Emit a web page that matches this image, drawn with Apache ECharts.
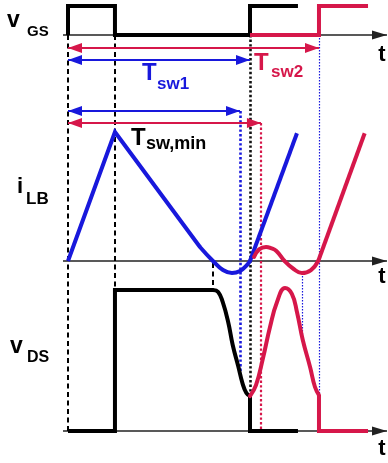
<!DOCTYPE html>
<html>
<head>
<meta charset="utf-8">
<script src="https://cdn.jsdelivr.net/npm/echarts@6/dist/echarts.min.js"></script>
<style>
  html, body { margin: 0; padding: 0; background: #fff; }
  #c { width: 388px; height: 463px; }
</style>
</head>
<body>
<div id="c"></div>
<script>
// ---- switching instants (time units, 0 = start of first gate pulse) ----
const tOn = 5.16;       // end of gate on-time
const tFall = 15.93;    // vDS starts to fall, iLB crosses zero
const tMinBlue = 18.9;  // minimum-period instant, first cycle
const tSw1 = 20.0;      // first switching period
const tMinRed = 21.2;   // minimum switching period
const tValley2 = 25.7;  // second current valley
const tSw2 = 27.58;     // extended switching period

// ---- gate voltage vGS (normalised) ----
const vgsBlackT = [0, 0, 5.16, 5.16, 20.0, 20.0, 25.27];
const vgsBlackV = [0, 1, 1, 0, 0, 1, 1];
const vgsRedT = [20.0, 27.58, 27.58, 32.97];
const vgsRedV = [0, 0, 1, 1];

// ---- inductor current iLB (normalised to peak) ----
const ilbBlueT = [0, 5.16, 14.5, 15.93, 17.03, 18.02, 18.9, 19.67, 20.0, 25.16];
const ilbBlueV = [0, 1.0, 0.109, 0, -0.07, -0.093, -0.078, -0.031, 0, 0.99];
const ilbRedT = [20.44, 21.0, 21.76, 22.3, 22.9, 23.8, 24.8, 25.7, 26.7, 27.5, 32.6];
const ilbRedV = [0.031, 0.09, 0.109, 0.1, 0.078, 0, -0.062, -0.093, -0.07, 0, 0.99];

// ---- drain-source voltage vDS (normalised) ----
const vdsBlackT = [0, 5.16, 5.16, 15.93, 16.5, 17.0, 17.6, 18.1, 18.7, 19.2, 19.6, 20.0, 20.0, 25.27];
const vdsBlackV = [0, 0, 1, 1, 0.986, 0.915, 0.773, 0.61, 0.461, 0.333, 0.27, 0.248, 0, 0];
const vdsRedT = [20.0, 20.66, 21.43, 22.2, 22.97, 23.85, 24.6, 25.16, 25.8, 26.6, 27.14, 27.58, 27.58, 32.97];
const vdsRedV = [0.248, 0.326, 0.518, 0.738, 0.915, 1.014, 0.972, 0.844, 0.645, 0.454, 0.312, 0.255, 0, 0];

// ---- period arrows: end time and colour ----
const arrowEnds = [tSw2, tSw1, tMinBlue, tMinRed];
const arrowColorKeys = ['red', 'blue', 'blue', 'red'];

// ---- layout ----
const W = 388, H = 463;
const PX_PER_T = 9.1, T0_PX = 68;
const COLORS = { black: '#000000', blue: '#1818dc', red: '#d6174a' };
const ROWS = {
  vgs: { base: 35, scale: 29 },
  ilb: { base: 261, scale: 129 },
  vds: { base: 431, scale: 141 }
};
const ROW_KEYS = ['vgs', 'ilb', 'vds'];
const LAYOUT_AXIS = 3;
const arrowLevels = [48, 60, 111, 123];
const axisStartT = (63 - T0_PX) / PX_PER_T;
const axisEndT = (387 - T0_PX) / PX_PER_T;
const TRACE_WIDTH = 4;

function rowY(row, v) { return ROWS[row].base - ROWS[row].scale * v; }

const ARROW_PATH = 'path://M5,0L10,14L0,14Z';

const yAxes = ROW_KEYS.map(k => ({
  type: 'value', show: false,
  min: (ROWS[k].base - H) / ROWS[k].scale,
  max: ROWS[k].base / ROWS[k].scale
}));
yAxes.push({ type: 'value', show: false, min: 0, max: H, inverse: true });

function lineSeries(points, row, color, z, smooth) {
  return {
    type: 'line', yAxisIndex: ROW_KEYS.indexOf(row), data: points,
    showSymbol: false, symbol: 'none', silent: true, animation: false, z: z,
    smooth: smooth ? 0.45 : false,
    lineStyle: { color: color, width: TRACE_WIDTH, join: smooth ? 'round' : 'miter', cap: smooth ? 'round' : 'butt' }
  };
}

// a trace drawn as straight pieces with one smoothly curved stretch [c0, c1] (point indices)
function trace(ts, vs, row, color, z, c0, c1) {
  const pts = ts.map((t, i) => [t, vs[i]]);
  if (c0 == null) return [lineSeries(pts, row, color, z, false)];
  const out = [];
  if (c0 > 0) out.push(lineSeries(pts.slice(0, c0 + 1), row, color, z, false));
  out.push(lineSeries(pts.slice(c0, c1 + 1), row, color, z, true));
  if (c1 < pts.length - 1) out.push(lineSeries(pts.slice(c1), row, color, z, false));
  return out;
}

function markSeries(yAxisIndex, lines, z) {
  return {
    type: 'line', yAxisIndex: yAxisIndex, data: [], silent: true, animation: false, z: z,
    markLine: {
      silent: true, animation: false, symbol: ['none', 'none'],
      label: { show: false }, emphasis: { disabled: true },
      data: lines
    }
  };
}

function endArrow(coord, w, h) {
  return { coord: coord, symbol: ARROW_PATH, symbolSize: [w, h], symbolOffset: [0, h / 2], symbolKeepAspect: false };
}

// horizontal time axes with arrow heads
const axisSeries = ROW_KEYS.map((k, i) => markSeries(i, [[
  { coord: [axisStartT, 0], lineStyle: { color: '#222', width: 1.6, type: 'solid' } },
  endArrow([axisEndT, 0], 9, 15)
]], 1));

// vertical guide lines
const dashed = { color: '#000', width: 2, type: [5, 3.5] };
const dotBlack = { color: '#111', width: 2.6, type: [2.4, 2.2] };
const dotBlue = { color: COLORS.blue, width: 2.6, type: [2.4, 2.2] };
const dotRed = { color: COLORS.red, width: 2.2, type: [2.4, 2.2] };
const thinBlue = { color: COLORS.blue, width: 1.2, type: [1.5, 1.5] };
const guideDefs = [
  [0, rowY('vgs', 0), rowY('vds', 0), dashed],
  [tOn, rowY('vgs', 0), rowY('vds', 1), dashed],
  [tFall, rowY('ilb', 0) + 2, rowY('vds', 1), dashed],
  [tMinBlue, arrowLevels[2], rowY('vds', 0.41), dotBlue],
  [tSw1, rowY('vgs', 0), rowY('vds', 0.248), dotBlack],
  [tMinRed, arrowLevels[3], rowY('vds', 0), dotRed],
  [tValley2, rowY('ilb', -0.093), rowY('vds', 0.676), thinBlue],
  [tSw2, rowY('vgs', 0), rowY('vds', 0.255), thinBlue]
];
const guideSeries = markSeries(LAYOUT_AXIS, guideDefs.map(g => [
  { coord: [g[0], g[1]], lineStyle: g[3] },
  { coord: [g[0], g[2]] }
]), 2);

// double-headed period arrows
const arrowSeries = markSeries(LAYOUT_AXIS, arrowEnds.map((tEnd, i) => {
  const c = COLORS[arrowColorKeys[i]];
  const a = endArrow([0, arrowLevels[i]], 10, 14);
  a.lineStyle = { color: c, width: 2.2, type: 'solid' };
  return [a, endArrow([tEnd, arrowLevels[i]], 10, 14)];
}), 5);

// text labels (x = left edge, b = baseline)
const labelDefs = [
  { text: 'v', x: 7, b: 29, size: 23 },
  { text: 'GS', x: 27, b: 37, size: 15 },
  { text: 'i', x: 17, b: 195, size: 22 },
  { text: 'LB', x: 26, b: 205, size: 17 },
  { text: 'v', x: 10, b: 355, size: 23 },
  { text: 'DS', x: 27, b: 363, size: 16 },
  { text: 't', x: 382, b: 63, size: 22, align: 'center' },
  { text: 't', x: 382, b: 285, size: 22, align: 'center' },
  { text: 't', x: 382, b: 457, size: 22, align: 'center' },
  { text: 'T', x: 142, b: 82, size: 24, color: COLORS.blue },
  { text: 'sw1', x: 157, b: 90, size: 17, color: COLORS.blue },
  { text: 'T', x: 254, b: 72, size: 24, color: COLORS.red },
  { text: 'sw2', x: 271, b: 78, size: 17, color: COLORS.red },
  { text: 'T', x: 131, b: 147, size: 24 },
  { text: 'sw,min', x: 146, b: 150, size: 18 }
];
const graphics = labelDefs.map(l => ({
  type: 'text', x: l.x, y: l.b - 0.35 * l.size, silent: true, z: 10,
  style: {
    text: l.text,
    font: 'bold ' + l.size + 'px "Liberation Sans", Arial, sans-serif',
    fill: l.color || '#000',
    align: l.align || 'left',
    verticalAlign: 'middle'
  }
}));

const chart = echarts.init(document.getElementById('c'), null, { renderer: 'canvas' });
chart.setOption({
  animation: false,
  backgroundColor: '#ffffff',
  grid: { left: 0, right: 0, top: 0, bottom: 0, containLabel: false },
  xAxis: { type: 'value', show: false, min: -T0_PX / PX_PER_T, max: (W - T0_PX) / PX_PER_T },
  yAxis: yAxes,
  graphic: graphics,
  series: [
    ...axisSeries,
    guideSeries,
    ...trace(vgsBlackT, vgsBlackV, 'vgs', COLORS.black, 6),
    ...trace(vgsRedT, vgsRedV, 'vgs', COLORS.red, 7),
    ...trace(ilbBlueT, ilbBlueV, 'ilb', COLORS.blue, 6, 2, 8),
    ...trace(ilbRedT, ilbRedV, 'ilb', COLORS.red, 7, 0, 9),
    ...trace(vdsBlackT, vdsBlackV, 'vds', COLORS.black, 6, 3, 11),
    ...trace(vdsRedT, vdsRedV, 'vds', COLORS.red, 7, 0, 11),
    arrowSeries
  ]
});
</script>
</body>
</html>
